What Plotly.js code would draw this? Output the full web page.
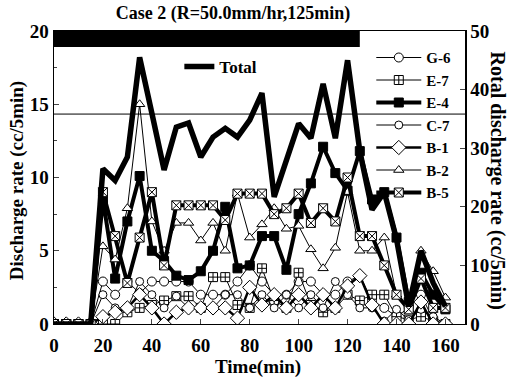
<!DOCTYPE html>
<html>
<head>
<meta charset="utf-8">
<script src="https://cdn.plot.ly/plotly-3.0.1.min.js"></script>
<style>html,body{margin:0;padding:0;background:#fff;}#chart{width:511px;height:379px;}</style>
</head>
<body>
<div id="chart"></div>
<script>
// Time (min)
const time = [0,5,10,15,20,25,30,35,40,45,50,55,60,65,70,75,80,85,90,95,100,105,110,115,120,125,130,135,140,145,150,155,160];
// Discharge rate (cc/5min), left axis
const g6 = [0,0,0,0,2.9,2.0,2.9,2.1,2.9,2.9,2.9,2.9,2.0,2.0,2.0,2.9,4.0,2.9,2.0,2.0,2.9,2.9,2.0,2.0,2.9,3.3,1.6,1.1,0.5,1.1,2.0,0.3,0];
const e7 = [0,0,0,0,0,0,0.8,1.1,1.3,1.6,1.9,1.9,1.1,3.2,3.2,1.3,1.1,3.8,1.6,1.1,3.5,1.3,0.8,1.1,2.0,1.6,2.0,2.0,0.5,0.3,0.5,0.2,0];
const e4 = [0,0,0,0,8.5,3.1,7.0,10.1,5.0,4.3,3.3,3.0,3.6,5.0,8.0,3.8,4.0,6.0,6.0,3.7,7.5,9.6,12.1,10.3,9.1,11.8,8.5,9.0,5.9,1.5,3.5,2.0,1.0];
const c7 = [0,0,0,0,2.0,1.1,1.1,2.9,2.0,1.1,1.9,1.1,1.1,1.1,2.0,2.0,1.1,2.0,1.1,2.0,1.1,2.0,1.1,2.9,2.0,1.1,1.1,0.2,1.0,0.3,1.0,0.5,0];
const b1 = [0,0,0,0,0.5,0.8,1.1,2.0,1.1,0,0.8,1.1,1.1,1.1,1.1,0.4,2.5,1.3,2.0,1.1,2.0,1.1,2.0,1.1,2.6,3.3,1.3,0,0,0,1.5,0,0];
const b2 = [0,0,0,0,5.3,4.4,7.9,15.0,7.0,5.0,6.9,6.9,5.7,6.9,5.0,8.9,5.9,6.8,7.9,6.5,6.7,5.1,3.8,5.2,9.0,5.0,5.0,5.9,2.0,1.0,5.0,3.6,1.8];
const b5 = [0,0,0,0,9.0,6.0,2.8,5.9,9.0,4.0,8.1,8.1,8.1,8.1,7.1,8.9,8.9,8.9,7.5,7.9,8.9,6.9,7.9,7.0,10.0,6.0,6.0,4.0,2.0,1.0,3.1,1.1,1.1];
// Total discharge rate (cc/5min), right axis
const total = [0,0,0,0,26.5,24.5,28.5,45.5,36,26.3,33.6,34.3,28.5,31.9,33.4,31.9,34.8,39.4,21.7,28,34.2,31.7,41,31.7,45,29.5,19.5,22.5,14.5,3,12.5,7,3];
// Rainfall duration (min) and reference level
const rainEnd = 125;
const refLevel = 14.33;

const seriesNames = ["G-6","E-7","E-4","C-7","B-1","B-2","B-5"];
const seriesData = [g6,e7,e4,c7,b1,b2,b5];
const styles = [
  {lw:1,   sym:"circle",      fill:"white", size:9},
  {lw:1,   sym:"square-cross",fill:"white", size:9},
  {lw:4,   sym:"square",      fill:"black", size:9},
  {lw:1,   sym:"circle",      fill:"white", size:8},
  {lw:2.5, sym:"diamond",     fill:"white", size:11},
  {lw:1,   sym:"triangle-up", fill:"white", size:9},
  {lw:4,   sym:"square-x",    fill:"white", size:9}
];

const traces = seriesNames.map((n,i)=>({
  x: time, y: seriesData[i], name: n, type: "scatter", mode: "lines+markers",
  legendgroup: n, legend: "legend",
  line: {color: "black", width: styles[i].lw},
  marker: {symbol: styles[i].sym, color: styles[i].fill, size: styles[i].size, line: {color: "black", width: 1}}
}));
traces.push({
  x: time, y: total, name: "Total", type: "scatter", mode: "lines", yaxis: "y2",
  legend: "legend2", line: {color: "black", width: 5.5}
});

const F = "Liberation Serif, Times New Roman, serif";
const layout = {
  width: 511, height: 379,
  margin: {l: 54, r: 46, t: 31, b: 55},
  paper_bgcolor: "white", plot_bgcolor: "white",
  font: {family: F, size: 19, color: "black", weight: "bold"},
  title: {text: "Case 2 (R=50.0mm/hr,125min)", x: 0.456, xanchor: "center", y: 0.966, yanchor: "middle", font: {family: F, size: 18, weight: "bold"}},
  xaxis: {range: [0, 168], tickvals: [0,20,40,60,80,100,120,140,160], ticks: "inside", ticklen: 5, showline: true, mirror: true, linecolor: "black", linewidth: 1, showgrid: false, zeroline: false, ticklabelstandoff: 4, tickfont: {size: 19}},
  yaxis: {range: [0, 20], tickvals: [0,5,10,15,20], ticks: "inside", ticklen: 5, showline: true, linecolor: "black", linewidth: 1.5, showgrid: false, zeroline: false, tickfont: {size: 19},
          minor: {dtick: 2.5, ticks: "inside", ticklen: 3}},
  yaxis2: {range: [0, 50], tickvals: [0,10,20,30,40,50], overlaying: "y", side: "right", ticks: "inside", ticklen: 5, showline: true, linecolor: "black", linewidth: 1.5, showgrid: false, zeroline: false, tickfont: {size: 19}},
  legend: {x: 0.772, y: 0.965, xanchor: "left", yanchor: "top", bgcolor: "rgba(0,0,0,0)", borderwidth: 0, font: {size: 15, family: F, weight: "bold"}, tracegroupgap: 0, itemwidth: 45, traceorder: "normal"},
  legend2: {x: 0.305, y: 0.877, xanchor: "left", yanchor: "middle", bgcolor: "rgba(0,0,0,0)", borderwidth: 0, font: {size: 17, family: F, weight: "bold"}},
  shapes: [
    {type: "rect", xref: "x", yref: "y", x0: 0, x1: rainEnd, y0: 18.9, y1: 20, fillcolor: "black", line: {width: 0}},
    {type: "line", xref: "paper", yref: "y", x0: 0, x1: 1, y0: refLevel, y1: refLevel, line: {color: "black", width: 1}}
  ],
  annotations: [
    {text: "Discharge rate (cc/5min)", xref: "paper", yref: "paper", x: -0.088, y: 0.49, textangle: -90, showarrow: false, xanchor: "center", yanchor: "middle", font: {size: 19, family: F, weight: "bold"}},
    {text: "Rotal discharge rate (cc/5min)", xref: "paper", yref: "paper", x: 1.080, y: 0.49, textangle: 90, showarrow: false, xanchor: "center", yanchor: "middle", font: {size: 20, family: F, weight: "bold"}},
    {text: "Time(min)", xref: "paper", yref: "paper", x: 0.496, y: -0.147, showarrow: false, xanchor: "center", yanchor: "middle", font: {size: 19, family: F, weight: "bold"}}
  ],
  showlegend: true
};
Plotly.newPlot("chart", traces, layout, {staticPlot: true, displayModeBar: false});
</script>
</body>
</html>
